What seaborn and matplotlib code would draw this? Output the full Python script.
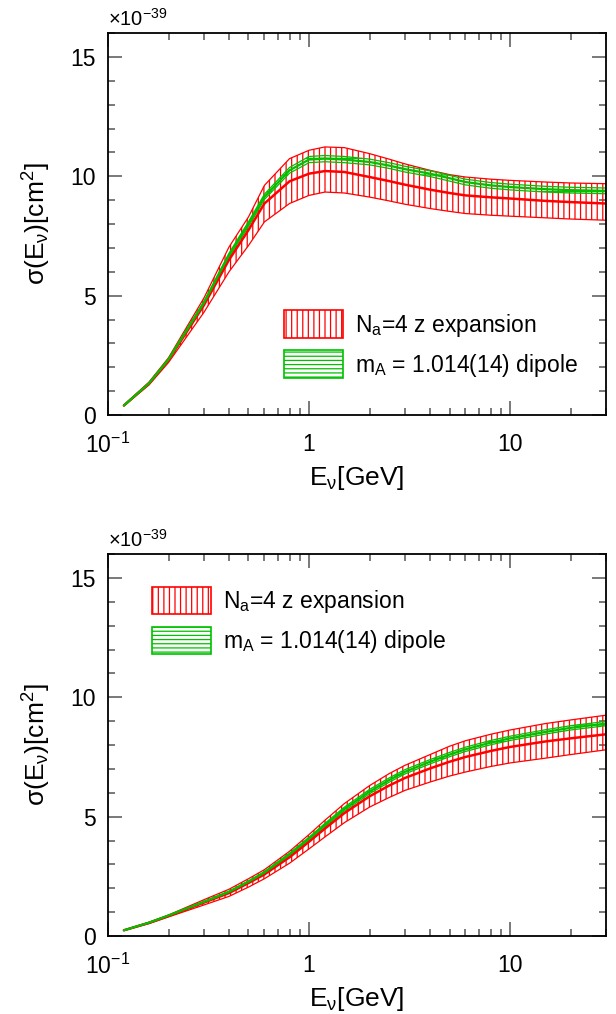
import numpy as np
import pandas as pd
import seaborn as sns
import matplotlib.pyplot as plt
from matplotlib.patches import Patch
from matplotlib.ticker import FixedLocator, FixedFormatter, LogLocator, NullFormatter, MultipleLocator

# neutrino energy grid (GeV)
E = [0.12, 0.16, 0.2, 0.3, 0.4, 0.5, 0.6, 0.8, 1.0, 1.2, 1.5, 2, 2.5, 3, 4, 5, 6, 8, 10, 15, 20, 30]

# top panel (x 1e-39 cm^2)
top_red_up = [0.42, 1.38, 2.4, 4.9, 7.04, 8.3, 9.62, 10.74, 11.09, 11.23, 11.2, 10.95, 10.72, 10.52, 10.25, 10.07, 9.97, 9.88, 9.83, 9.76, 9.72, 9.69]
top_red_c = [0.40, 1.32, 2.3, 4.6, 6.5, 7.75, 8.86, 9.79, 10.11, 10.22, 10.18, 9.97, 9.8, 9.65, 9.44, 9.3, 9.2, 9.12, 9.07, 8.97, 8.92, 8.86]
top_red_lo = [0.38, 1.26, 2.2, 4.3, 6.0, 7.1, 8.09, 8.86, 9.2, 9.34, 9.3, 9.13, 8.97, 8.83, 8.65, 8.53, 8.44, 8.37, 8.33, 8.26, 8.21, 8.16]
top_grn_up = [0.41, 1.35, 2.36, 4.76, 6.78, 8.1, 9.25, 10.37, 10.83, 10.87, 10.83, 10.72, 10.57, 10.42, 10.23, 10.04, 9.88, 9.74, 9.67, 9.58, 9.54, 9.51]
top_grn_c = [0.40, 1.33, 2.33, 4.7, 6.7, 8.0, 9.14, 10.25, 10.7, 10.74, 10.7, 10.6, 10.45, 10.3, 10.11, 9.92, 9.76, 9.62, 9.55, 9.46, 9.42, 9.39]
top_grn_lo = [0.39, 1.31, 2.30, 4.64, 6.62, 7.9, 9.03, 10.13, 10.57, 10.61, 10.57, 10.48, 10.33, 10.18, 9.99, 9.80, 9.64, 9.50, 9.43, 9.34, 9.30, 9.27]

# bottom panel
bot_red_up = [0.25, 0.58, 0.88, 1.52, 1.96, 2.4, 2.78, 3.55, 4.25, 4.85, 5.55, 6.3, 6.8, 7.15, 7.6, 7.95, 8.18, 8.45, 8.63, 8.9, 9.05, 9.25]
bot_red_c = [0.24, 0.55, 0.84, 1.4, 1.8, 2.22, 2.58, 3.3, 3.95, 4.5, 5.15, 5.85, 6.3, 6.62, 7.02, 7.3, 7.5, 7.75, 7.92, 8.15, 8.28, 8.45]
bot_red_lo = [0.23, 0.52, 0.80, 1.3, 1.66, 2.05, 2.4, 3.05, 3.65, 4.15, 4.75, 5.4, 5.8, 6.1, 6.45, 6.7, 6.87, 7.1, 7.25, 7.45, 7.6, 7.8]
bot_grn_up = [0.245, 0.57, 0.87, 1.45, 1.88, 2.31, 2.7, 3.47, 4.14, 4.72, 5.4, 6.14, 6.62, 6.97, 7.39, 7.69, 7.91, 8.19, 8.37, 8.64, 8.81, 8.99]
bot_grn_c = [0.24, 0.56, 0.86, 1.43, 1.85, 2.28, 2.66, 3.42, 4.08, 4.65, 5.32, 6.05, 6.53, 6.88, 7.3, 7.6, 7.82, 8.1, 8.28, 8.55, 8.72, 8.9]
bot_grn_lo = [0.235, 0.55, 0.85, 1.41, 1.82, 2.25, 2.62, 3.37, 4.02, 4.58, 5.24, 5.96, 6.44, 6.79, 7.21, 7.51, 7.73, 8.01, 8.19, 8.46, 8.63, 8.81]

labels = ['N$_{a}$=4 z expansion', 'm$_{A}$ = 1.014(14) dipole']
xtick_vals = [0.1, 1, 10]
xtick_labels = ['10$^{-1}$', '1', '10']

sns.set_style('ticks')
plt.rcParams['font.family'] = ['Liberation Sans', 'DejaVu Sans']
plt.rcParams['mathtext.fontset'] = 'custom'
plt.rcParams['mathtext.rm'] = 'Liberation Sans'
plt.rcParams['mathtext.it'] = 'Liberation Sans:italic'
plt.rcParams['mathtext.default'] = 'regular'
plt.rcParams['hatch.linewidth'] = 0.9
plt.rcParams['text.color'] = 'black'
plt.rcParams['axes.labelcolor'] = 'black'
plt.rcParams['xtick.labelcolor'] = 'black'
plt.rcParams['ytick.labelcolor'] = 'black'

RED = '#ff0000'
GRN = '#00c000'


def panel(ax, red_lo, red_c, red_up, grn_lo, grn_c, grn_up, leg_anchor):
    df = pd.DataFrame({'E': E, 'red': red_c, 'green': grn_c})
    ax.fill_between(E, red_lo, red_up, facecolor='none', edgecolor=RED, hatch='|||', linewidth=0.9)
    sns.lineplot(data=df, x='E', y='red', color=RED, lw=1.8, ax=ax, estimator=None)
    ax.fill_between(E, grn_lo, grn_up, facecolor='none', edgecolor=GRN, hatch='-', linewidth=0.9)
    sns.lineplot(data=df, x='E', y='green', color=GRN, lw=1.6, ax=ax, estimator=None)
    ax.set_xscale('log')
    ax.set_xlim(0.1, 30)
    ax.set_ylim(0, 16)
    ax.xaxis.set_major_locator(FixedLocator(xtick_vals))
    ax.xaxis.set_major_formatter(FixedFormatter(xtick_labels))
    ax.xaxis.set_minor_locator(LogLocator(base=10, subs=np.arange(2, 10)))
    ax.xaxis.set_minor_formatter(NullFormatter())
    ax.yaxis.set_major_locator(MultipleLocator(5))
    ax.yaxis.set_minor_locator(MultipleLocator(1))
    ax.tick_params(which='both', direction='in', top=True, right=True, color='#555555', labelsize=16.5)
    ax.tick_params(which='major', length=10, width=1.1)
    ax.tick_params(axis='y', which='major', pad=9)
    ax.tick_params(axis='x', which='major', pad=13)
    ax.tick_params(which='minor', length=5, width=1.1)
    for s in ax.spines.values():
        s.set_linewidth(1.3)
        s.set_color('black')
    ax.set_xlabel('E$_{ν}$[GeV]', fontsize=19, labelpad=4)
    ax.set_ylabel('σ(E$_{ν}$)[cm$^{2}$]', fontsize=19, labelpad=12)
    ax.text(0.0, 1.008, '×10$^{-39}$', transform=ax.transAxes, fontsize=14.5, ha='left', va='bottom')
    handles = [Patch(facecolor='none', edgecolor=RED, hatch='|||', linewidth=1.2),
               Patch(facecolor='none', edgecolor=GRN, hatch='----', linewidth=1.2)]
    ax.legend(handles, labels, loc='upper left', bbox_to_anchor=leg_anchor, frameon=False,
              fontsize=16.5, handlelength=2.6, handleheight=1.5, handletextpad=0.5,
              labelspacing=0.5, borderpad=0, borderaxespad=0)


fig = plt.figure(figsize=(6.16, 10.14), dpi=100)
ax1 = fig.add_axes([0.1753, 0.5907, 0.8084, 0.3767])
ax2 = fig.add_axes([0.1753, 0.0769, 0.8084, 0.3767])

panel(ax1, top_red_lo, top_red_c, top_red_up, top_grn_lo, top_grn_c, top_grn_up, (0.353, 0.275))
panel(ax2, bot_red_lo, bot_red_c, bot_red_up, bot_grn_lo, bot_grn_c, bot_grn_up, (0.088, 0.915))

fig.savefig('out.png', dpi=100)
